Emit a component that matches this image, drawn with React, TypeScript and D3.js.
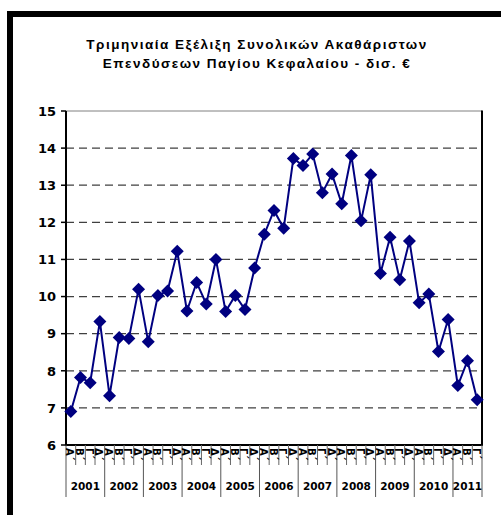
import React from "react";
import * as d3 from "d3";

const years = ["2001", "2002", "2003", "2004", "2005", "2006", "2007", "2008", "2009", "2010", "2011"];
const quarterNames = ["Α΄", "Β΄", "Γ΄", "Δ΄"];
const values = [
  6.9, 7.82, 7.68, 9.33,
  7.33, 8.9, 8.87, 10.2,
  8.78, 10.03, 10.15, 11.22,
  9.61, 10.38, 9.8, 11.0,
  9.6, 10.03, 9.65, 10.77,
  11.68, 12.32, 11.84, 13.72,
  13.53, 13.84, 12.8, 13.3,
  12.5, 13.8, 12.04, 13.28,
  10.62, 11.6, 10.45, 11.5,
  9.83, 10.07, 8.52, 9.38,
  7.6, 8.27, 7.22,
];
const yTicks = [6, 7, 8, 9, 10, 11, 12, 13, 14, 15];
const titleLines = [
  "Τριμηνιαία Εξέλιξη Συνολικών Ακαθάριστων",
  "Επενδύσεων Παγίου Κεφαλαίου - δισ. €",
];

export default function App() {
  const W = 501, H = 515;
  const left = 66, right = 482, top = 111, bottom = 445;
  const cats = values.map((_, i) => i);
  const x = d3.scaleBand<number>().domain(cats).range([left, right]);
  const y = d3.scaleLinear().domain([6, 15]).range([bottom, top]);
  const cx = (i: number) => (x(i) as number) + x.bandwidth() / 2;
  const line = d3.line<number>().x((_, i) => cx(i)).y((v) => y(v));
  const bw = x.bandwidth();
  const d = 6.5;
  const diamond = (px: number, py: number) =>
    `M${px},${py - d}L${px + d},${py}L${px},${py + d}L${px - d},${py}Z`;

  const quarterLabel = (i: number) => quarterNames[i % 4];

  return (
    <svg width={W} height={H} style={{ position: "absolute", left: 0, top: 0 }}>
      <rect x={0} y={0} width={W} height={H} fill="#fff" />
      {/* outer frame fragments */}
      <rect x={7} y={11} width={6} height={H - 11} fill="#000" />
      <rect x={7} y={11} width={W - 7} height={6} fill="#000" />
      {/* title */}
      {titleLines.map((t, i) => (
        <text key={i} x={257} y={49 + i * 19} textAnchor="middle"
          fontFamily="Liberation Sans, Arial, sans-serif" fontWeight="bold" fontSize={13.5}
          letterSpacing={1.5} fill="#000">
          {t}
        </text>
      ))}
      {/* grid lines */}
      {yTicks.filter((t) => t > 6 && t < 15).map((t) => (
        <line key={t} x1={left} x2={right} y1={y(t)} y2={y(t)} stroke="#404040" strokeWidth={1.2} strokeDasharray="8,5" />
      ))}
      {/* top border */}
      <line x1={left} x2={right} y1={top} y2={top} stroke="#808080" strokeWidth={1} />
      {/* right border */}
      <line x1={right} x2={right} y1={top - 0.5} y2={bottom} stroke="#000" strokeWidth={2} />
      {/* y-axis */}
      <line x1={left} x2={left} y1={top} y2={bottom + 1} stroke="#000" strokeWidth={2} />
      {yTicks.map((t) => (
        <g key={t}>
          <line x1={left - 5} x2={left} y1={y(t)} y2={y(t)} stroke="#000" strokeWidth={1.5} />
          <text x={56} y={y(t) + 4.8} textAnchor="end" fontFamily="DejaVu Sans, sans-serif"
            fontWeight="bold" fontSize={13} fill="#000">{t}</text>
        </g>
      ))}
      {/* x-axis */}
      <line x1={left - 1} x2={right + 1} y1={bottom} y2={bottom} stroke="#000" strokeWidth={2} />
      {cats.map((i) => (
        <line key={"q" + i} x1={x(i) as number} x2={x(i) as number} y1={bottom} y2={i % 4 === 0 ? 497 : 465}
          stroke={i % 4 === 0 ? "#555" : "#666"} strokeWidth={1} />
      ))}
      <line x1={right} x2={right} y1={bottom} y2={497} stroke="#555" strokeWidth={1} />
      {cats.map((i) => (
        <text key={"ql" + i} transform={`translate(${cx(i) - 4.5},${bottom + 3}) rotate(90)`}
          fontFamily="DejaVu Sans, sans-serif" fontWeight="bold" fontSize={10} fill="#000">
          {quarterLabel(i)}
        </text>
      ))}
      {years.map((yr, k) => {
        const start = k * 4;
        const end = Math.min(start + 4, values.length);
        const mid = ((x(start) as number) + (x(end - 1) as number) + bw) / 2;
        return (
          <text key={yr} x={mid} y={490} textAnchor="middle" fontFamily="DejaVu Sans, sans-serif"
            fontWeight="bold" fontSize={10.5} fill="#000">{yr}</text>
        );
      })}
      {/* series */}
      <path d={line(values) || ""} fill="none" stroke="#000080" strokeWidth={2} />
      {values.map((v, i) => (
        <path key={"m" + i} d={diamond(cx(i), y(v))} fill="#000080" />
      ))}
    </svg>
  );
}
